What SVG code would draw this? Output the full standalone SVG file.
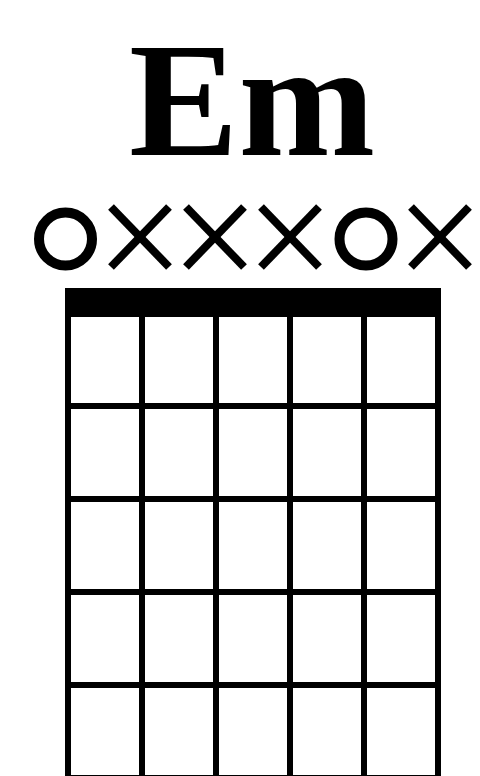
<svg xmlns="http://www.w3.org/2000/svg" width="480" height="776" viewBox="0 0 480 776">
<style>
.title{font-family:"Liberation Serif","Times New Roman",serif;font-weight:bold;font-size:164px;fill:#000}
.str{stroke:#000;stroke-width:6}
.fret{stroke:#000;stroke-width:6}
.open{fill:none;stroke:#000;stroke-width:10}
.mute{stroke:#000;stroke-width:8;stroke-linecap:butt}
</style>
<rect width="480" height="776" fill="#fff"/>
<g id="title"><text class="title" x="252" y="155" text-anchor="middle">Em</text></g>
<g id="markers">
<circle class="open" cx="65.5" cy="239" r="26.5"/>
<g class="mute" transform="translate(140,237)"><line x1="-29" y1="-30" x2="29" y2="30"/><line x1="29" y1="-30" x2="-29" y2="30"/></g>
<g class="mute" transform="translate(215,237)"><line x1="-29" y1="-30" x2="29" y2="30"/><line x1="29" y1="-30" x2="-29" y2="30"/></g>
<g class="mute" transform="translate(290,237)"><line x1="-29" y1="-30" x2="29" y2="30"/><line x1="29" y1="-30" x2="-29" y2="30"/></g>
<circle class="open" cx="366" cy="239" r="26.5"/>
<g class="mute" transform="translate(440,237)"><line x1="-29" y1="-30" x2="29" y2="30"/><line x1="29" y1="-30" x2="-29" y2="30"/></g>
</g>
<g id="nut"><rect x="65" y="288" width="376" height="29" fill="#000"/></g>
<g id="strings">
<line class="str" x1="68" y1="317" x2="68" y2="776"/>
<line class="str" x1="142" y1="317" x2="142" y2="776"/>
<line class="str" x1="216" y1="317" x2="216" y2="776"/>
<line class="str" x1="290" y1="317" x2="290" y2="776"/>
<line class="str" x1="364" y1="317" x2="364" y2="776"/>
<line class="str" x1="438" y1="317" x2="438" y2="776"/>
</g>
<g id="frets">
<line class="fret" x1="65" y1="406" x2="441" y2="406"/>
<line class="fret" x1="65" y1="499" x2="441" y2="499"/>
<line class="fret" x1="65" y1="592" x2="441" y2="592"/>
<line class="fret" x1="65" y1="685" x2="441" y2="685"/>
<line class="fret" x1="65" y1="778" x2="441" y2="778"/>
</g>
</svg>
